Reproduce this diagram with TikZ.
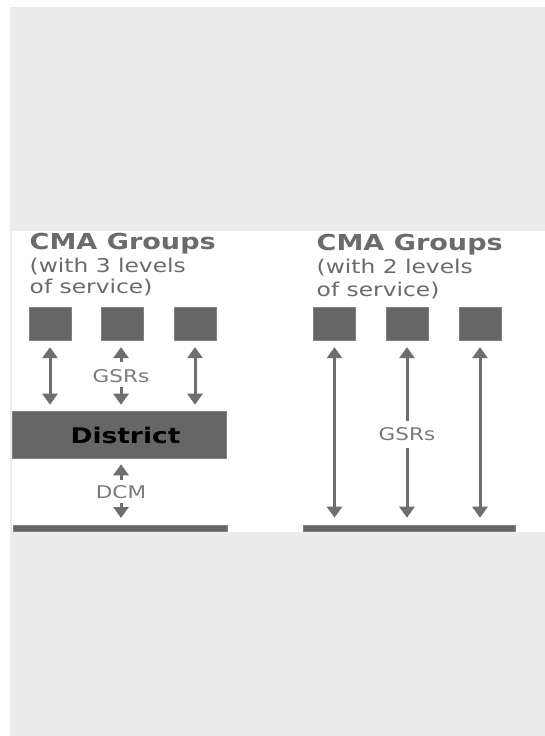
\documentclass[tikz,border=0pt]{standalone}
\usepackage{fontspec}
\usetikzlibrary{arrows.meta}
\newfontfamily\wideface[FakeStretch=1.23]{DejaVu Sans}
\definecolor{pagegray}{HTML}{ECECEC}
\definecolor{boxgray}{HTML}{666666}
\definecolor{edgegray}{HTML}{808080}
\definecolor{linegray}{HTML}{6E6E6E}
\definecolor{titlegray}{HTML}{6B6B6B}
\definecolor{labelgray}{HTML}{7A7A7A}
\begin{document}
\begin{tikzpicture}[x=1pt,y=-1pt,
  group/.style={rectangle, fill=boxgray, draw=edgegray, line width=0.8pt,
    minimum width=42pt, minimum height=32.5pt, inner sep=0pt},
  bar/.style={rectangle, fill=boxgray, draw=edgegray, line width=0.6pt,
    minimum height=6pt, inner sep=0pt},
  head/.style={font=\wideface\bfseries\fontsize{22}{26}\selectfont,
    text=titlegray, inner sep=0pt, anchor=base west},
  sub/.style={font=\wideface\fontsize{19}{23}\selectfont,
    text=titlegray, inner sep=0pt, anchor=base west},
  tag/.style={font=\wideface\fontsize{17.5}{21}\selectfont,
    text=labelgray, inner sep=0pt},
  flow/.style={line width=3pt, draw=linegray,
    -{Triangle[width=15pt,length=11pt]}},
  both/.style={line width=3pt, draw=linegray,
    {Triangle[width=15pt,length=11pt]}-{Triangle[width=15pt,length=11pt]}}
]
\useasboundingbox (0,0) rectangle (545,736);
% page background and content panel
\fill[white] (0,0) rectangle (545,736);
\fill[pagegray] (10,7) rectangle (545,736);
\fill[white] (12,231) rectangle (545,532);

% headings
\node[head] (titleA) at (29.5,249.5) {CMA Groups};
\node[sub] (subA1) at (29.5,272.7) {(with 3 levels};
\node[sub] (subA2) at (29.5,293.5) {of service)};
\node[head] (titleB) at (316.5,250) {CMA Groups};
\node[sub] (subB1) at (316.5,273.2) {(with 2 levels};
\node[sub] (subB2) at (316.5,296) {of service)};

% CMA group squares
\node[group] (a1) at (50,324) {};
\node[group] (a2) at (122.5,324) {};
\node[group] (a3) at (195,324) {};
\node[group] (b1) at (334.5,324) {};
\node[group] (b2) at (407,324) {};
\node[group] (b3) at (480,324) {};

% district level and base bars
\node[rectangle, fill=boxgray, draw=edgegray, line width=0.6pt,
  minimum width=214pt, minimum height=47.5pt, inner sep=0pt]
  (district) at (119,434.75) {};
\node[font=\wideface\bfseries\fontsize{21.5}{25}\selectfont, text=black,
  inner sep=0pt] (districtlabel) at (125.5,435) {District};
\node[bar, minimum width=214pt] (baseA) at (120,528) {};
\node[bar, minimum width=212pt] (baseB) at (409.5,528) {};

% labels
\node[tag] (gsrA) at (121,376) {GSRs};
\node[tag] (dcm) at (121,492) {DCM};
\node[tag] (gsrB) at (407,434.5) {GSRs};

% left: groups to district
\draw[both, shorten <=6.5pt, shorten >=6pt] (a1.south) -- (a1.south |- district.north);
\draw[both, shorten <=6.5pt, shorten >=6pt] (a3.south) -- (a3.south |- district.north);
\draw[flow, shorten <=7pt, shorten >=6.5pt] (gsrA.north) -- (gsrA.north |- a2.south);
\draw[flow, shorten <=4.5pt, shorten >=6pt] (gsrA.south) -- (gsrA.south |- district.north);
% left: district to base
\draw[flow, shorten <=5pt, shorten >=5.5pt] (dcm.north) -- (dcm.north |- district.south);
\draw[flow, shorten <=4.3pt, shorten >=6.7pt] (dcm.south) -- (dcm.south |- baseA.north);

% right: groups straight to base
\draw[both, shorten <=6.5pt, shorten >=7pt] (b1.south) -- (b1.south |- baseB.north);
\draw[both, shorten <=6.5pt, shorten >=7pt] (b3.south) -- (b3.south |- baseB.north);
\draw[flow, shorten <=7pt, shorten >=6.5pt] (gsrB.north) -- (gsrB.north |- b2.south);
\draw[flow, shorten <=7pt, shorten >=7pt] (gsrB.south) -- (gsrB.south |- baseB.north);
\end{tikzpicture}
\end{document}
